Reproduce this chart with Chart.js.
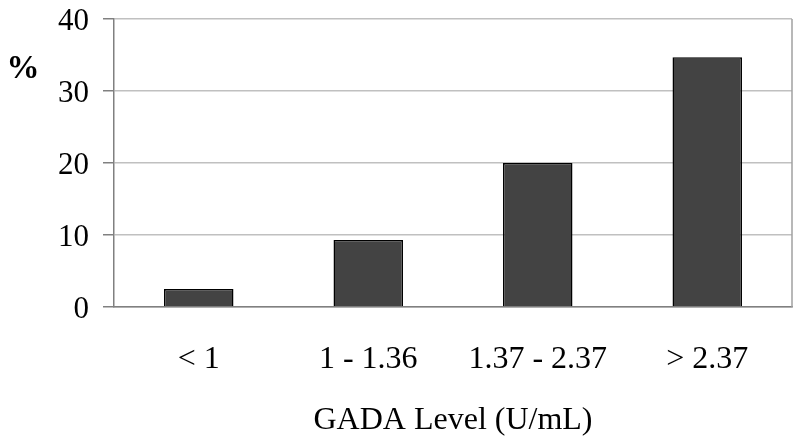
<!DOCTYPE html>
<html>
<head>
<meta charset="utf-8">
<script src="https://cdn.jsdelivr.net/npm/chart.js@4/dist/chart.umd.min.js"></script>
<style>
  html, body { margin: 0; padding: 0; background: #fff; }
  #wrap { width: 800px; height: 447px; position: relative; }
</style>
</head>
<body>
<div id="wrap"><canvas id="gadaChart"></canvas></div>
<script>
// categories and values
const categories = ["< 1", "1 - 1.36", "1.37 - 2.37", "> 2.37"];
const percentValues = [2.5, 9.3, 20.0, 34.7];
const yMin = 0;
const yMax = 40;
const yStep = 10;

const serif = "'Liberation Serif', 'Times New Roman', serif";

// draws the "%" label and the right frame line
const extras = {
    id: "extras",
    afterDraw(chart) {
        const ctx = chart.ctx;
        const area = chart.chartArea;
        ctx.save();
        ctx.strokeStyle = "#a0a0a0";
        ctx.lineWidth = 1.5;
        ctx.beginPath();
        ctx.moveTo(area.right, area.top);
        ctx.lineTo(area.right, area.bottom);
        ctx.stroke();

        ctx.fillStyle = "#000";
        ctx.font = "bold 33px " + serif;
        ctx.textAlign = "center";
        ctx.textBaseline = "middle";
        ctx.fillText("%", 23, 69);
        ctx.restore();
    }
};

new Chart(document.getElementById("gadaChart").getContext("2d"), {
    type: "bar",
    data: {
        labels: categories,
        datasets: [{
            data: percentValues,
            backgroundColor: "#434343",
            borderColor: "#000",
            borderWidth: 1.5,
            barPercentage: 0.41,
            categoryPercentage: 1
        }]
    },
    options: {
        responsive: true,
        maintainAspectRatio: false,
        animation: false,
        layout: { padding: { top: 19, right: 8, left: 0, bottom: 0 } },
        plugins: {
            legend: { display: false },
            tooltip: { enabled: false }
        },
        scales: {
            x: {
                grid: { display: false, drawTicks: false },
                border: { display: true, color: "#808080", width: 1.5 },
                ticks: {
                    color: "#000",
                    font: { family: serif, size: 32, lineHeight: 1 },
                    padding: 37,
                    maxRotation: 0,
                    autoSkip: false
                },
                title: {
                    display: true,
                    text: "GADA Level (U/mL)",
                    color: "#000",
                    font: { family: serif, size: 32, lineHeight: 1 },
                    padding: { top: 0, bottom: 10 }
                },
                afterFit(scale) {
                    scale.height = 140;
                    scale.paddingLeft = 0;
                    scale.paddingRight = 0;
                }
            },
            y: {
                min: yMin,
                max: yMax,
                grid: {
                    color: "#c0c0c0",
                    lineWidth: 1.5,
                    tickColor: "#808080",
                    tickLength: 11,
                    drawTicks: true
                },
                border: { display: true, color: "#808080", width: 1.5 },
                ticks: {
                    stepSize: yStep,
                    color: "#000",
                    font: { family: serif, size: 31, lineHeight: 1 },
                    padding: 14,
                    labelOffset: 3
                },
                afterFit(scale) {
                    scale.width = 114;
                    scale.paddingTop = 0;
                    scale.paddingBottom = 0;
                }
            }
        }
    },
    plugins: [extras]
});
</script>
</body>
</html>
